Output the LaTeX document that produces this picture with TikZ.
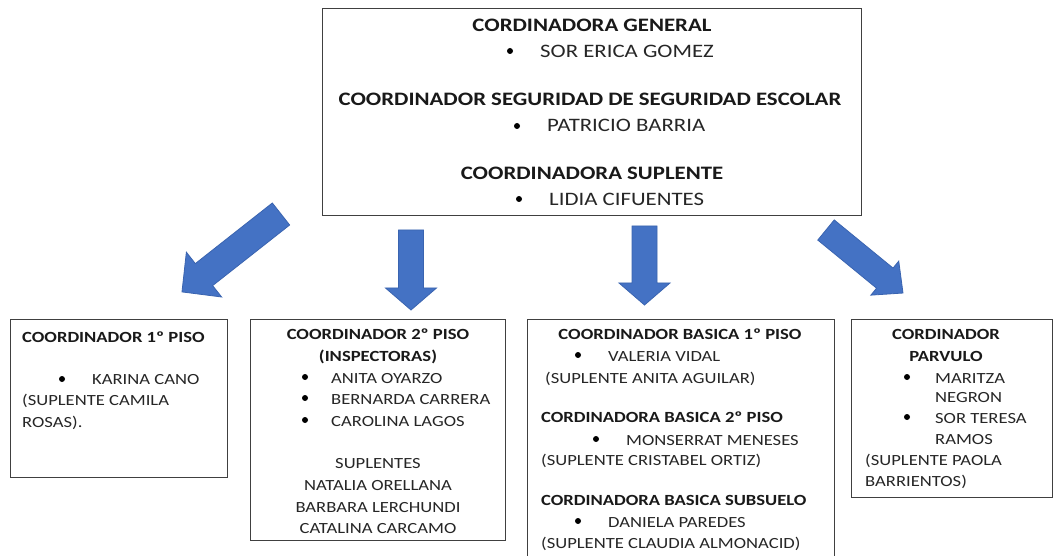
\documentclass[tikz,border=0pt]{standalone}
\usepackage{fontspec}
\setmainfont[FakeStretch=1.2]{Carlito}
\definecolor{arrowfill}{HTML}{4472C4}
\definecolor{arrowline}{HTML}{3A64B0}
\definecolor{boxline}{HTML}{404040}
\tikzset{
 box/.style={draw=boxline, line width=1.2pt, inner sep=0pt, anchor=north west},
 barrow/.style={fill=arrowfill, draw=arrowline, line width=0.8pt, line join=miter},
 tt/.style={font=\fontsize{19}{22}\selectfont\bfseries, inner sep=0pt, text=black!90},
 tn/.style={font=\fontsize{19}{22}\selectfont, inner sep=0pt, text=black!85},
 bt/.style={font=\fontsize{15.5}{18}\selectfont\bfseries, inner sep=0pt, text=black!90},
 bn/.style={font=\fontsize{15.5}{18}\selectfont, inner sep=0pt, text=black!85},
 dot/.style={circle, fill=black, inner sep=0pt, minimum size=6pt},
}
\begin{document}
\begin{tikzpicture}[x=1pt,y=-1pt]
\useasboundingbox[fill=white] (0,0) rectangle (1053,556);
% top box
\node[box, minimum width=539pt, minimum height=207pt] (top) at (322,8) {};
\node[tt, anchor=base] (t1) at (592,31.5) {CORDINADORA GENERAL};
\node[dot] (d1) at (510,51) {};
\node[tn, anchor=base west] (n1) at (540,57.5) {SOR ERICA GOMEZ};
\node[tt, anchor=base] (t2) at (590,105.5) {COORDINADOR SEGURIDAD DE SEGURIDAD ESCOLAR};
\node[dot] (d2) at (517,126) {};
\node[tn, anchor=base west] (n2) at (547,132) {PATRICIO BARRIA};
\node[tt, anchor=base] (t3) at (592,180) {COORDINADORA SUPLENTE};
\node[dot] (d3) at (519,199) {};
\node[tn, anchor=base west] (n3) at (549,205.5) {LIDIA CIFUENTES};
% arrows
\begin{scope}[shift={(281,214)}, rotate=218.2]
 \filldraw[barrow] (0,-14) -- (98,-14) -- (98,-28.5) -- (126,0) -- (98,28.5) -- (98,14) -- (0,14) -- cycle;
\end{scope}
\begin{scope}[shift={(411,230)}, rotate=-90]
 \filldraw[barrow] (0,-12.5) -- (58,-12.5) -- (58,-25.5) -- (80,0) -- (58,25.5) -- (58,12.5) -- (0,12.5) -- cycle;
\end{scope}
\begin{scope}[shift={(644.5,226)}, rotate=-90]
 \filldraw[barrow] (0,-12.5) -- (57,-12.5) -- (57,-25.5) -- (79,0) -- (57,25.5) -- (57,12.5) -- (0,12.5) -- cycle;
\end{scope}
\begin{scope}[shift={(826,230)}, rotate=-39.3]
 \filldraw[barrow] (0,-13) -- (76,-13) -- (76,-22) -- (99.5,0) -- (76,22) -- (76,13) -- (0,13) -- cycle;
\end{scope}
% box 1
\node[box, minimum width=217pt, minimum height=158pt] (b1) at (10,319) {};
\node[bt, anchor=base west] (b1t) at (22,342) {COORDINADOR 1º PISO};
\node[dot] (b1d) at (62,379) {};
\node[bn, anchor=base west] (b1a) at (92,384) {KARINA CANO};
\node[bn, anchor=base west] (b1b) at (22,405) {(SUPLENTE CAMILA};
\node[bn, anchor=base west] (b1c) at (22,427) {ROSAS).};
% box 2
\node[box, minimum width=255pt, minimum height=221pt] (b2) at (250,319) {};
\node[bt, anchor=base] (b2t) at (378,339) {COORDINADOR 2º PISO};
\node[bt, anchor=base] (b2u) at (378,361) {(INSPECTORAS)};
\node[dot] (b2d1) at (305,377) {};
\node[bn, anchor=base west] (b2a) at (331,383) {ANITA OYARZO};
\node[dot] (b2d2) at (305,398) {};
\node[bn, anchor=base west] (b2b) at (331,404) {BERNARDA CARRERA};
\node[dot] (b2d3) at (305,420) {};
\node[bn, anchor=base west] (b2c) at (331,426) {CAROLINA LAGOS};
\node[bn, anchor=base] (b2s) at (378,468) {SUPLENTES};
\node[bn, anchor=base] (b2e) at (378,490) {NATALIA ORELLANA};
\node[bn, anchor=base] (b2f) at (378,512) {BARBARA LERCHUNDI};
\node[bn, anchor=base] (b2g) at (378,533) {CATALINA CARCAMO};
% box 3
\node[box, minimum width=307pt, minimum height=245pt] (b3) at (527,319) {};
\node[bt, anchor=base] (b3t) at (680,339) {COORDINADOR BASICA 1º PISO};
\node[dot] (b3d1) at (578,355) {};
\node[bn, anchor=base west] (b3a) at (608,361) {VALERIA VIDAL};
\node[bn, anchor=base west] (b3b) at (545,383) {(SUPLENTE ANITA AGUILAR)};
\node[bt, anchor=base west] (b3u) at (541,422) {CORDINADORA BASICA 2º PISO};
\node[dot] (b3d2) at (596,439) {};
\node[bn, anchor=base west] (b3c) at (626,445) {MONSERRAT MENESES};
\node[bn, anchor=base west] (b3e) at (541,465) {(SUPLENTE CRISTABEL ORTIZ)};
\node[bt, anchor=base west] (b3v) at (541,505) {CORDINADORA BASICA SUBSUELO};
\node[dot] (b3d3) at (578,521) {};
\node[bn, anchor=base west] (b3f) at (608,527) {DANIELA PAREDES};
\node[bn, anchor=base west] (b3g) at (541,548) {(SUPLENTE CLAUDIA ALMONACID)};
% box 4
\node[box, minimum width=201pt, minimum height=178pt] (b4) at (851,319) {};
\node[bt, anchor=base] (b4t) at (946,339) {CORDINADOR};
\node[bt, anchor=base] (b4u) at (946,361) {PARVULO};
\node[dot] (b4d1) at (907,377) {};
\node[bn, anchor=base west] (b4a) at (935,383) {MARITZA};
\node[bn, anchor=base west] (b4b) at (935,402) {NEGRON};
\node[dot] (b4d2) at (907,417) {};
\node[bn, anchor=base west] (b4c) at (935,423) {SOR TERESA};
\node[bn, anchor=base west] (b4e) at (935,444) {RAMOS};
\node[bn, anchor=base west] (b4f) at (865,465) {(SUPLENTE PAOLA};
\node[bn, anchor=base west] (b4g) at (865,486) {BARRIENTOS)};
\end{tikzpicture}
\end{document}
